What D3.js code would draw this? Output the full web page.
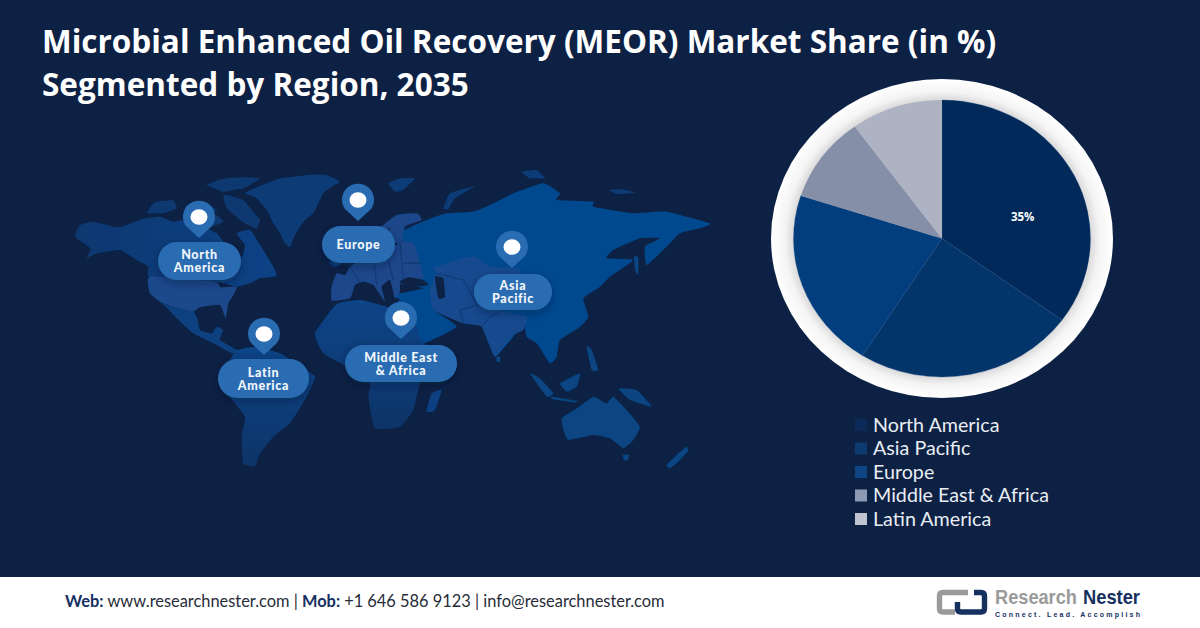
<!DOCTYPE html>
<html>
<head>
<meta charset="utf-8">
<script src="https://cdn.jsdelivr.net/npm/d3@7"></script>
<style>
  html, body { margin: 0; padding: 0; background: #0d2144; }
  svg { display: block; }
</style>
</head>
<body>
<div id="chart"></div>
<script>
// values
const regions = ['North America', 'Asia Pacific', 'Europe', 'Middle East & Africa', 'Latin America'];
const shares = [35, 24, 21, 10, 10];
const shareLabels = ['35%', '', '', '', ''];
const sliceColors = ['#012a5b', '#03346a', '#023e7d', '#858fa8', '#aeb3c3'];
const sliceEdges = ['#1d4a80', '#1d4a80', '#1d4a80', 'none', 'none'];
const legendColors = ['#0b2a58', '#0f3a70', '#0e4585', '#8e99b3', '#c0c4d0'];
const titleLines = ['Microbial Enhanced Oil Recovery (MEOR) Market Share (in %)', 'Segmented by Region, 2035'];

// callouts on the map
const pinNames = [['North', 'America'], ['Europe'], ['Asia', 'Pacific'], ['Latin', 'America'], ['Middle East', '& Africa']];
const pinSpots = [[199, 217], [358, 200], [512, 247], [264, 334], [401, 318]];
const pillBoxes = [[158, 242, 83, 38], [322, 226, 73, 37], [474, 274, 78, 36], [218, 359, 91, 39], [345, 345, 112, 37]];

// land outlines traced on a 1020x900 grid, west part of the map
const alaskaCanada = [[45,200],[60,165],[100,155],[170,172],[200,165],[255,145],[300,140],[340,155],[370,150],[420,165],[470,190],[490,215],[520,250],[545,262],[555,225],[530,190],[570,180],[610,240],[640,290],[650,318],[600,325],[570,340],[530,350],[470,335],[270,322],[265,290],[230,270],[180,240],[110,250],[80,265],[92,235]];
const usa = [[270,320],[465,335],[482,352],[530,350],[520,375],[505,400],[497,445],[480,405],[420,412],[400,425],[340,410],[300,395],[270,370]];
const mexico = [[300,395],[340,410],[400,425],[412,445],[420,480],[455,490],[470,470],[490,480],[480,510],[530,540],[515,550],[470,525],[400,490],[345,440],[318,410]];
const greenland = [[555,70],[590,52],[620,40],[660,25],[700,20],[750,14],[800,15],[840,35],[815,50],[790,70],[775,100],[760,130],[735,150],[720,170],[700,205],[690,232],[672,215],[660,190],[640,160],[620,120],[590,85]];
const baffin = [[490,75],[520,80],[550,90],[580,125],[600,150],[590,175],[565,165],[540,150],[500,115]];
const ellesmere = [[440,45],[470,32],[500,25],[550,22],[600,25],[575,42],[550,55],[490,65]];
const victoria = [[375,110],[400,100],[430,95],[470,120],[450,135],[430,145],[385,135]];
const banks = [[262,130],[275,105],[290,95],[340,90],[350,115],[310,130]];
const southampton = [[430,150],[470,135],[490,155],[455,170]];
const southAmerica = [[530,540],[590,530],[660,550],[715,585],[765,620],[740,680],[690,760],[640,800],[600,850],[585,890],[550,880],[545,800],[555,740],[510,680],[490,620],[510,570]];
const africa = [[765,490],[830,402],[905,390],[1000,415],[1020,390],[1070,470],[1100,530],[1130,560],[1080,640],[1060,720],[1020,770],[945,775],[925,680],[930,640],[860,590],[790,550]];
const madagascar = [[1100,725],[1115,670],[1145,660],[1125,720]];
const iceland = [[805,280],[825,268],[845,280],[825,292]];

// east part of the map, same grid moved along
const eurasia = [[60,190],[140,150],[200,130],[280,125],[330,105],[400,70],[490,40],[540,70],[530,90],[640,95],[640,110],[760,130],[860,125],[990,160],[960,175],[900,190],[860,230],[800,285],[795,230],[840,205],[780,205],[700,240],[680,265],[760,270],[690,320],[660,350],[610,385],[625,440],[600,470],[540,510],[530,560],[510,580],[470,520],[440,500],[430,450],[400,500],[345,560],[305,470],[250,460],[160,420],[230,470],[130,520],[110,470],[60,390],[40,375],[130,355],[60,340],[100,280]];
const centralAsia = [[160,295],[250,265],[290,260],[330,290],[420,300],[370,420],[440,440],[430,480],[400,495],[345,560],[305,470],[250,460],[160,420],[150,360],[170,310]];
const europeMain = [[-145,350],[-145,392],[-90,385],[-75,345],[-50,335],[-20,345],[15,395],[5,350],[30,330],[45,385],[60,365],[60,340],[80,330],[130,325],[120,280],[100,220],[60,215],[20,250],[-20,255],[-50,265],[-90,290],[-105,315],[-130,310]];
const scandinavia = [[-70,215],[-10,180],[50,135],[110,130],[125,150],[75,170],[65,220],[20,210],[30,170],[0,215],[-20,250],[-55,250]];
const britain = [[-105,230],[-85,225],[-70,270],[-105,280]];
const blackSea = [[60,335],[85,322],[130,330],[145,345],[90,352]];
const caspian = [[165,320],[190,325],[195,380],[175,385]];
const australia = [[545,745],[590,715],[640,680],[680,700],[700,680],[740,720],[780,770],[760,810],[730,835],[690,805],[640,795],[565,810],[550,780]];
const tasmania = [[728,855],[748,855],[742,872],[732,870]];
const newZealand = [[860,885],[895,850],[920,830],[925,842],[895,875],[870,895]];
const newGuinea = [[715,655],[770,660],[815,710],[750,690]];
const borneo = [[540,640],[600,610],[590,650],[560,665]];
const sumatra = [[450,610],[480,625],[520,670],[500,680]];
const java = [[515,680],[590,692],[585,698],[520,688]];
const philippines = [[620,530],[635,540],[655,600],[635,600]];
const sakhalin = [[762,260],[775,262],[775,315],[765,300]];
const sriLanka = [[350,560],[360,560],[360,575],[350,575]];
const novayaZemlya = [[190,115],[210,70],[285,48],[225,85],[205,118]];
const svalbard = [[25,40],[60,25],[105,25],[70,60],[45,65]];
const arcticIsles = [[425,5],[470,0],[495,25],[450,25]];
const newSiberia = [[688,60],[725,58],[765,68],[710,72]];

// thin country borders
const borderLines = [
  [[170,310],[250,330],[290,400]], [[250,460],[240,420],[310,400],[370,420]], [[305,470],[330,440],[370,420]],
  [[-90,290],[-60,340]], [[-20,255],[-10,345]], [[20,250],[40,330]], [[60,215],[70,330]], [[70,280],[120,280]]
];

const width = 1200, height = 628;
const svg = d3.select('#chart').append('svg').attr('width', width).attr('height', height);
const defs = svg.append('defs');

svg.append('rect').attr('width', width).attr('height', height).attr('fill', '#0d2144');

// gradients
const canadaGrad = defs.append('linearGradient').attr('id', 'canadaGrad').attr('x1', 0).attr('x2', 1);
canadaGrad.append('stop').attr('offset', 0).attr('stop-color', '#0b376f');
canadaGrad.append('stop').attr('offset', 1).attr('stop-color', '#0a4286');
const southGrad = defs.append('linearGradient').attr('id', 'southGrad').attr('x1', 0).attr('x2', 0).attr('y1', 0).attr('y2', 1);
southGrad.append('stop').attr('offset', 0).attr('stop-color', '#0a4487');
southGrad.append('stop').attr('offset', 1).attr('stop-color', '#0a3468');
const ringGrad = defs.append('radialGradient').attr('id', 'ringGrad');
ringGrad.append('stop').attr('offset', 0.86).attr('stop-color', '#d6d6d8');
ringGrad.append('stop').attr('offset', 0.92).attr('stop-color', '#f4f4f4');
ringGrad.append('stop').attr('offset', 1).attr('stop-color', '#ffffff');
const shadow = defs.append('filter').attr('id', 'pillShadow').attr('x', '-20%').attr('y', '-30%').attr('width', '140%').attr('height', '170%');
shadow.append('feDropShadow').attr('dx', 0).attr('dy', 3).attr('stdDeviation', 4).attr('flood-color', '#06152e').attr('flood-opacity', 0.4);
defs.append('filter').attr('id', 'soften').append('feGaussianBlur').attr('stdDeviation', 0.6);

// map
const westX = d3.scaleLinear().domain([0, 1020]).range([60, 400]);
const eastX = d3.scaleLinear().domain([0, 1020]).range([380, 720]);
const mapY = d3.scaleLinear().domain([0, 900]).range([170, 470]);
const westLine = d3.line().x(d => westX(d[0])).y(d => mapY(d[1])).curve(d3.curveCardinalClosed.tension(0.6));
const eastLine = d3.line().x(d => eastX(d[0])).y(d => mapY(d[1])).curve(d3.curveCardinalClosed.tension(0.6));
const borderLine = d3.line().x(d => eastX(d[0])).y(d => mapY(d[1]));

const mapG = svg.append('g').attr('class', 'map').attr('filter', 'url(#soften)');
function land(line, outlines, fill) {
  mapG.append('g').selectAll('path').data(outlines).enter().append('path')
    .attr('d', line).attr('fill', fill);
}
land(westLine, [alaskaCanada], 'url(#canadaGrad)');
land(westLine, [baffin, ellesmere, victoria, banks, southampton], '#0b376f');
land(westLine, [greenland], '#0a3a76');
land(westLine, [usa], '#1c4a8c');
land(westLine, [mexico], '#0a3f7e');
land(westLine, [iceland], '#0b3a75');
land(westLine, [southAmerica, africa], 'url(#southGrad)');
land(westLine, [madagascar], '#0a4182');
land(eastLine, [eurasia], '#05498f');
land(eastLine, [centralAsia], '#14498e');
land(eastLine, [europeMain, scandinavia, britain], '#1b478a');
land(eastLine, [blackSea, caspian], '#0d2144');
land(eastLine, [australia, newGuinea, borneo, sumatra, java, philippines], '#074583');
land(eastLine, [tasmania, newZealand, sakhalin, sriLanka], '#074583');
land(eastLine, [novayaZemlya, svalbard, arcticIsles, newSiberia], '#0a3a76');
mapG.append('g').selectAll('path').data(borderLines).enter().append('path')
  .attr('d', borderLine).attr('fill', 'none').attr('stroke', '#0d2f63').attr('stroke-width', 0.7);

// pins and pills
const callouts = svg.append('g').attr('class', 'callouts');
pinNames.forEach((lines, i) => {
  const [cx, cy] = pinSpots[i];
  const [bx, by, bw, bh] = pillBoxes[i];
  const g = callouts.append('g');
  g.append('path')
    .attr('d', `M${cx},${cy + 21} L${cx - 13},${cy + 9} A16,16 0 1 1 ${cx + 13},${cy + 9} Z`)
    .attr('fill', '#2a6cb2');
  g.append('ellipse').attr('cx', cx).attr('cy', cy).attr('rx', 8.5).attr('ry', 7.8).attr('fill', '#fff');
  g.append('rect').attr('x', bx).attr('y', by).attr('width', bw).attr('height', bh)
    .attr('rx', bh / 2).attr('fill', '#2a6cb2').attr('filter', 'url(#pillShadow)');
  const mid = by + bh / 2;
  g.selectAll('text').data(lines).enter().append('text')
    .attr('x', bx + bw / 2)
    .attr('y', (d, j) => mid + 4.5 + (j - (lines.length - 1) / 2) * 13)
    .attr('text-anchor', 'middle')
    .attr('font-family', 'Lato, sans-serif').attr('font-weight', 900).attr('font-size', 12.5)
    .attr('letter-spacing', 0.7)
    .attr('fill', '#f2f6fb')
    .text(d => d);
});

// pie, squeezed a bit in height like the picture
const pieG = svg.append('g').attr('transform', 'translate(942,238.5) scale(1,0.933)');
pieG.append('circle').attr('r', 171).attr('fill', 'url(#ringGrad)');
const pie = d3.pie().sort(null).value(d => d);
const arc = d3.arc().innerRadius(0).outerRadius(148.5);
pieG.selectAll('path.slice').data(pie(shares)).enter().append('path')
  .attr('class', 'slice').attr('d', arc)
  .attr('fill', (d, i) => sliceColors[i])
  .attr('stroke', (d, i) => sliceEdges[i]).attr('stroke-width', 0.3);
const labelSpot = d => d3.pointRadial(d.startAngle + (d.endAngle - d.startAngle) * 0.587, 84);
svg.append('g').attr('transform', 'translate(942,238.5)')
  .selectAll('text').data(pie(shares)).enter().append('text')
  .attr('x', d => labelSpot(d)[0])
  .attr('y', d => labelSpot(d)[1] * 0.933 + 4)
  .attr('text-anchor', 'middle')
  .attr('font-family', '"Open Sans", sans-serif').attr('font-weight', 700).attr('font-size', 11.5)
  .attr('fill', '#fff')
  .text((d, i) => shareLabels[i]);

// legend
const legendY = d3.scalePoint().domain(regions).range([425, 519]);
const legend = svg.append('g').selectAll('g').data(regions).enter().append('g')
  .attr('transform', d => `translate(855,${legendY(d)})`);
legend.append('rect').attr('y', -6).attr('width', 12).attr('height', 12)
  .attr('fill', (d, i) => legendColors[i]);
legend.append('text').attr('x', 18).attr('y', 6.5)
  .attr('font-family', 'Lato, sans-serif').attr('font-size', 19.7).attr('fill', '#e9edf3')
  .text(d => d);

// title
svg.append('g').selectAll('text').data(titleLines).enter().append('text')
  .attr('x', 42).attr('y', (d, i) => 53 + i * 43)
  .attr('font-family', '"Open Sans", sans-serif').attr('font-weight', 700).attr('font-size', 31.5)
  .attr('fill', '#fff')
  .text(d => d);

// footer
svg.append('rect').attr('y', 575).attr('width', width).attr('height', 53).attr('fill', '#fff');
svg.append('rect').attr('y', 575).attr('width', width).attr('height', 2).attr('fill', '#0d2144');
const footer = svg.append('text').attr('x', 65).attr('y', 607)
  .attr('font-family', 'Lato, sans-serif').attr('font-size', 16.4).attr('fill', '#262c38');
[['Web: ', true], ['www.researchnester.com | ', false], ['Mob: ', true], ['+1 646 586 9123 | info@researchnester.com', false]]
  .forEach(([t, strong]) => {
    footer.append('tspan').text(t)
      .attr('font-weight', strong ? 700 : 400)
      .attr('fill', strong ? '#16305f' : '#262c38');
  });

// logo
const logo = svg.append('g').attr('fill', 'none').attr('stroke-width', 5.4);
logo.append('path').attr('d', 'M968,592.5 H943 Q939.5,592.5 939.5,596 V608.5 Q939.5,612 943,612 H955').attr('stroke', '#9a9a9a');
logo.append('path').attr('d', 'M974,592.5 H981 Q984.5,592.5 984.5,596 V608.5 Q984.5,612 981,612 H961 Q957.5,612 957.5,608.5 V602').attr('stroke', '#16305f');

// logo words, squeezed to the width they have in the picture
function logoWord(word, x, targetWidth, fill) {
  const t = svg.append('text')
    .attr('font-family', '"Liberation Sans Narrow", "Liberation Sans", sans-serif')
    .attr('font-weight', 700).attr('font-size', 20).attr('fill', fill).text(word);
  const k = targetWidth / t.node().getComputedTextLength();
  t.attr('transform', `translate(${x},604) scale(${k},1)`);
}
logoWord('Research', 995, 82, '#9a9a9a');
logoWord('Nester', 1083, 57, '#16305f');
svg.append('text').attr('x', 995).attr('y', 617).attr('textLength', 145).attr('lengthAdjust', 'spacing')
  .attr('font-family', '"Liberation Sans", sans-serif').attr('font-weight', 700).attr('font-size', 7).attr('fill', '#16305f').text('Connect. Lead. Accomplish');
</script>
</body>
</html>
